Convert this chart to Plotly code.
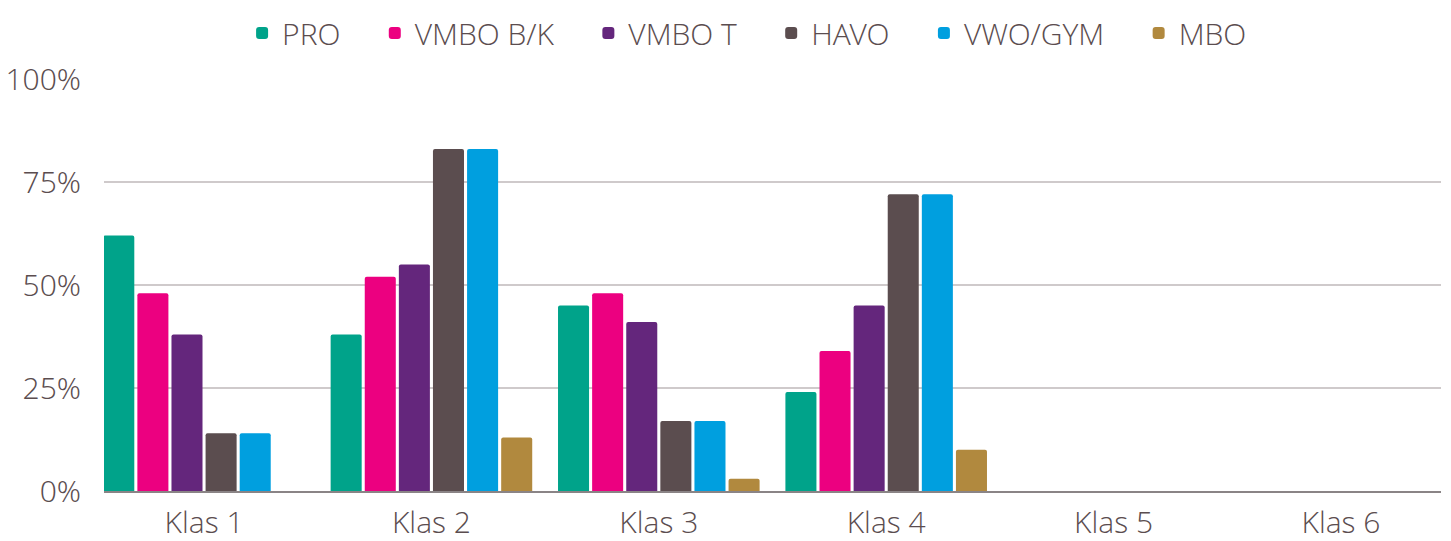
import plotly.graph_objects as go

categories = ["Klas 1", "Klas 2", "Klas 3", "Klas 4", "Klas 5", "Klas 6"]
series_names = ["PRO", "VMBO B/K", "VMBO T", "HAVO", "VWO/GYM", "MBO"]
pro = [62, 38, 45, 24, None, None]
vmbo_bk = [48, 52, 48, 34, None, None]
vmbo_t = [38, 55, 41, 45, None, None]
havo = [14, 83, 17, 72, None, None]
vwo_gym = [14, 83, 17, 72, None, None]
mbo = [0, 13, 3, 10, None, None]
y_ticks = [0, 25, 50, 75, 100]
y_tick_labels = ["0%", "25%", "50%", "75%", "100%"]

colors = ["#00A38A", "#EC0080", "#64267C", "#5B4D4F", "#009FDF", "#B1893E"]
values = [pro, vmbo_bk, vmbo_t, havo, vwo_gym, mbo]

FONT = "Open Sans Light, Open Sans"
TXT = "#5B4D4F"
FS = 30
PAD = "\u00a0" * 3 + "\u2009"

fig = go.Figure()
for i, (name, vals, col) in enumerate(zip(series_names, values, colors)):
    label = name + (PAD if i < len(series_names) - 1 else "")
    fig.add_trace(go.Bar(x=categories, y=vals, name=label, marker_color=col,
                         marker_line_width=0))

fig.update_layout(
    width=1451, height=541,
    margin=dict(l=104, r=10, t=79, b=50, autoexpand=False),
    paper_bgcolor="white", plot_bgcolor="white",
    barmode="group", bargap=0.1, bargroupgap=0.09, barcornerradius=2,
    font=dict(family=FONT, size=FS, color=TXT, weight=300),
    legend=dict(orientation="h", x=0.481, xanchor="center", y=0.987, yanchor="top",
                yref="container", font=dict(size=FS, family=FONT, color=TXT, weight=300),
                itemwidth=30, traceorder="normal"),
    showlegend=True,
)
fig.update_xaxes(range=[-0.44, 5.44], showgrid=False, showline=True, linecolor="#8A8486",
                 linewidth=2, ticks="", ticklabelstandoff=4, automargin=False,
                 tickfont=dict(size=FS, family=FONT, color=TXT, weight=300))
fig.update_yaxes(range=[0, 100], tickvals=y_ticks, ticktext=y_tick_labels, showgrid=True,
                 gridcolor="#CFCACB", gridwidth=2, zeroline=False, showline=False, ticks="",
                 ticklabelstandoff=22, automargin=False,
                 tickfont=dict(size=FS, family=FONT, color=TXT, weight=300))

fig.write_html("out.html", config={"displayModeBar": False},
               post_script="document.body.style.margin='0';document.body.style.padding='0';")
